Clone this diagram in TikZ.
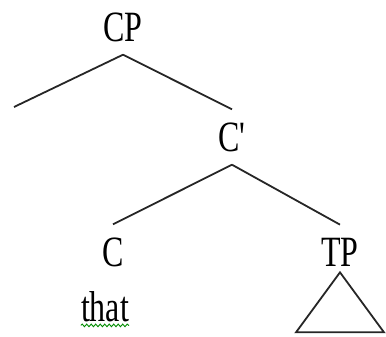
\documentclass[tikz,border=0pt]{standalone}
\usepackage{fontspec}
\setmainfont{Liberation Serif}
\usetikzlibrary{positioning, decorations.pathmorphing}

\newcommand{\tallbox}[1]{\scalebox{1}[1.35]{#1}}

\begin{document}
\begin{tikzpicture}[x=1pt, y=-1pt]
        \tikzset{
            tree_label/.style={inner xsep=0pt, inner ysep=13pt, font=\fontsize{32}{32}\selectfont},
            branch/.style={line width=1.8pt, draw=black!85},
            squiggle/.style={draw=green!55!black, line width=0.9pt, decorate, decoration={snake, amplitude=1.3pt, segment length=4.5pt}}
        }
        \useasboundingbox (0,0) rectangle (386,337);

        \node[tree_label] (cp) at (123,27) {\tallbox{CP}};
        \coordinate (spec) at (14,107);
        \node[tree_label] (cbar) at (232,137) {\tallbox{C\textquotesingle}};
        \node[tree_label] (c) at (113,252) {\tallbox{C}};
        \node[tree_label] (tp) at (340,252) {\tallbox{TP}};
        \node[tree_label, inner ysep=0pt] (that) at (105,307) {\tallbox{that}};

        \draw[branch] (cp.south) -- (spec);
        \draw[branch] (cp.south) -- (cbar.north);
        \draw[branch] (cbar.south) -- (c.north);
        \draw[branch] (cbar.south) -- (tp.north);
        \draw[branch] ([yshift=7pt]tp.south) -- ++(-44,60) -- ++(88,0) -- cycle;
        \draw[squiggle] ([yshift=-3pt]that.south west) -- ([yshift=-3pt]that.south east);

    \end{tikzpicture}
\end{document}
